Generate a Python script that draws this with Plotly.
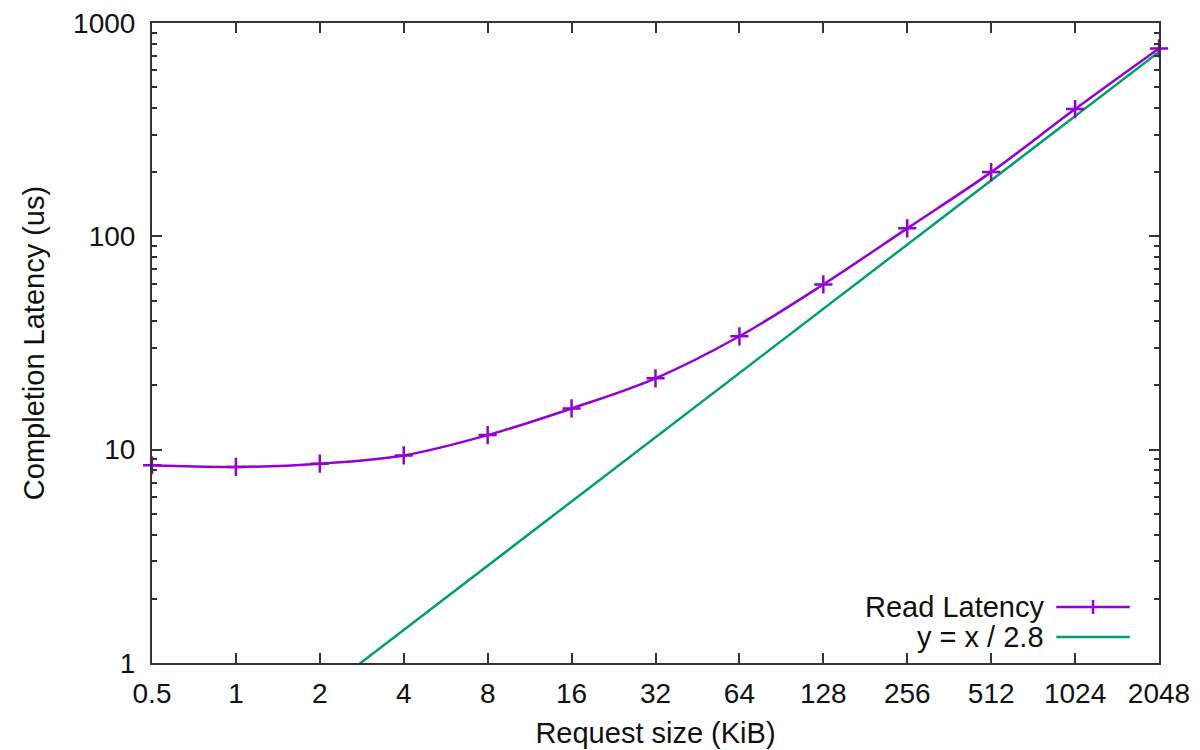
import plotly.graph_objects as go

sizes = [0.5, 1, 2, 4, 8, 16, 32, 64, 128, 256, 512, 1024, 2048]
read_latency = [8.45, 8.3, 8.6, 9.4, 11.7, 15.6, 21.6, 34.0, 59.5, 109, 200, 395, 760]
fit_x = [0.5, 2048]
fit_y = [0.5 / 2.8, 2048 / 2.8]
x_tick_labels = ["0.5", "1", "2", "4", "8", "16", "32", "64", "128", "256", "512", "1024", "2048"]

PURPLE = "#9400D3"
GREEN = "#009E73"
FONT = "Liberation Sans, Arial, Helvetica, sans-serif"
TXT = "#111111"

fig = go.Figure()
fig.add_trace(go.Scatter(
    x=fit_x, y=fit_y, mode="lines",
    line=dict(color=GREEN, width=2.5), name="y = x / 2.8", showlegend=False,
))
fig.add_trace(go.Scatter(
    x=sizes, y=read_latency, mode="lines+markers",
    line=dict(color=PURPLE, width=2.5, shape="spline", smoothing=1.0),
    marker=dict(symbol="cross-thin", size=13, line=dict(color=PURPLE, width=2.5)),
    name="Read Latency", showlegend=False, cliponaxis=False,
))

axis_common = dict(
    showgrid=False, zeroline=False, showline=True, linecolor="#333333", linewidth=2,
    mirror="ticks", ticks="inside", tickcolor="#333333", tickwidth=1.5, ticklen=10,
    tickfont=dict(family=FONT, size=28, color=TXT), ticklabeloverflow="allow",
    automargin=False,
)

fig.update_xaxes(
    type="log", range=[-0.30103, 3.31133], tickvals=sizes, ticktext=x_tick_labels,
    ticklabelstandoff=4,
    title=dict(text="Request size (KiB)", font=dict(family=FONT, size=29, color=TXT), standoff=15),
    **axis_common,
)
fig.update_yaxes(
    type="log", range=[0, 3], tickvals=[1, 10, 100, 1000], ticktext=["1", "10", "100", "1000"],
    ticklabelstandoff=9,
    minor=dict(ticks="inside", ticklen=5, tickcolor="#333333", tickwidth=1.5, dtick="D1", showgrid=False),
    title=dict(text="Completion Latency (us)", font=dict(family=FONT, size=29, color=TXT), standoff=20),
    **axis_common,
)

# manual gnuplot-style legend (text right, sample line on the right)
legend_items = [("Read Latency", PURPLE, True, 0.0875), ("y = x / 2.8", GREEN, False, 0.0406)]
for text, color, cross, yp in legend_items:
    fig.add_annotation(x=0.888, y=yp, xref="paper", yref="paper", text=text, showarrow=False,
                       xanchor="right", yanchor="middle",
                       font=dict(family=FONT, size=29, color=TXT))
    fig.add_shape(type="line", xref="paper", yref="paper", x0=0.898, x1=0.971, y0=yp, y1=yp,
                  line=dict(color=color, width=2.5))
    if cross:
        fig.add_shape(type="line", xref="paper", yref="paper", x0=0.9345, x1=0.9345,
                      y0=yp - 0.011, y1=yp + 0.011, line=dict(color=color, width=2.5))

fig.update_layout(
    width=1200, height=750,
    margin=dict(l=144, r=49, t=15, b=95),
    paper_bgcolor="white", plot_bgcolor="white",
    font=dict(family=FONT, color=TXT),
)

fig.write_html("out.html")
